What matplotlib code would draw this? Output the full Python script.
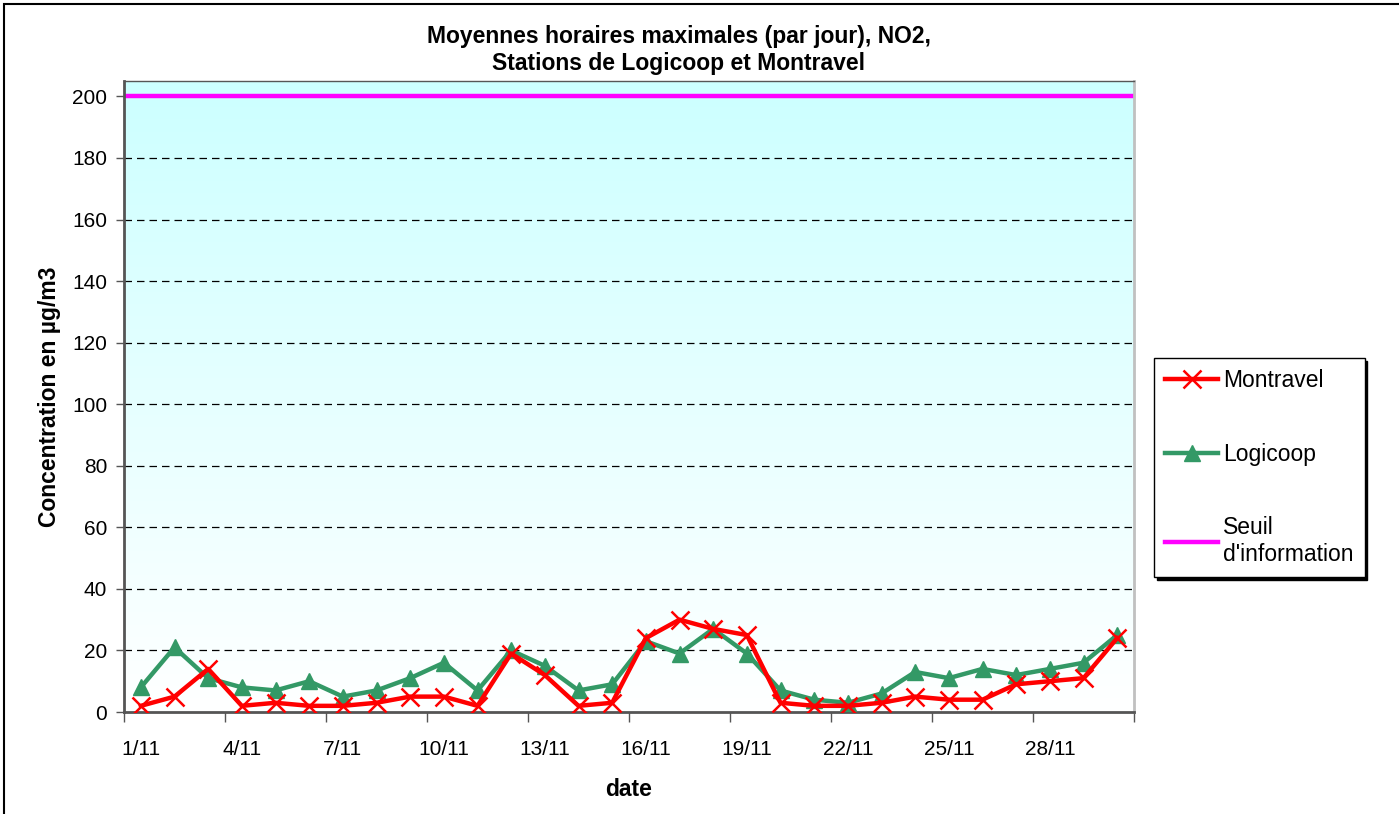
import numpy as np
import matplotlib.pyplot as plt
from matplotlib.patches import Rectangle

plt.rcParams['font.family'] = ['Liberation Sans', 'DejaVu Sans']

# Data
days = [f"{d}/11" for d in range(1, 31)]
montravel = [2, 5, 14, 2, 3, 2, 2, 3, 5, 5,
             2, 19, 12, 2, 3, 24, 30, 27, 25, 3,
             2, 2, 3, 5, 4, 4, 9, 10, 11, 24]
logicoop = [8, 21, 11, 8, 7, 10, 5, 7, 11, 16,
            7, 20, 15, 7, 9, 23, 19, 27, 19, 7,
            4, 3, 6, 13, 11, 14, 12, 14, 16, 25]
seuil = 200

x = np.arange(len(days))

fig = plt.figure(figsize=(13.99, 8.14), dpi=100)
ax = fig.add_axes([124/1399, 1 - 712/814, 1010/1399, 631/814])

# outer chart border
fig.patches.append(Rectangle((4/1399, -0.01), 1.02, 1 - 4/814 + 0.01,
                             transform=fig.transFigure, fill=False,
                             edgecolor='black', linewidth=1.5))

# gradient background
grad = np.linspace(0, 1, 256).reshape(-1, 1)
top = np.array([0.8, 1.0, 1.0])
bot = np.array([1.0, 1.0, 1.0])
img = bot + (top - bot) * grad[:, :, None] * np.ones((1, 1, 3))
ax.imshow(img, origin='lower', aspect='auto', extent=(-0.5, 29.5, 0, 205), zorder=0)

for yv in range(20, 200, 20):
    ax.axhline(yv, color='black', linestyle=(0, (6, 4)), linewidth=0.9, zorder=1)

ax.axhline(seuil, color='#FF00FF', linewidth=3.2, label="Seuil\nd'information", zorder=2)
ax.plot(x, logicoop, color='#339966', linewidth=3.2, marker='^', markersize=11,
        label='Logicoop', zorder=3)
ax.plot(x, montravel, color='#FF0000', linewidth=3.2, marker='x', markersize=13,
        markeredgewidth=1.8, label='Montravel', zorder=4)

ax.set_xlim(-0.5, 29.5)
ax.set_ylim(0, 205)
ax.set_yticks(range(0, 201, 20))
ax.tick_params(axis='y', labelsize=15, length=6, width=1, color='#555555', pad=6)

ax.set_xticks(np.arange(-0.5, 30, 3))
ax.set_xticklabels([])
ax.tick_params(axis='x', which='major', length=7, width=1, color='#555555')
ax.set_xticks(x[::3], minor=True)
ax.set_xticklabels(days[::3], minor=True)
ax.tick_params(axis='x', which='minor', length=0, labelsize=15, pad=20)

for side in ['left', 'bottom']:
    ax.spines[side].set_color('#555555')
    ax.spines[side].set_linewidth(2)
ax.spines['top'].set_color('#555555')
ax.spines['top'].set_linewidth(1)
ax.spines['right'].set_color('#C0C0C0')
ax.spines['right'].set_linewidth(2)

ax.set_ylabel('Concentration en µg/m3', fontsize=16.5, fontweight='bold', labelpad=8)
ax.set_xlabel('date', fontsize=16.5, fontweight='bold', labelpad=14)
fig.text(0.485, 1 - 50/814, 'Moyennes horaires maximales (par jour), NO2,\nStations de Logicoop et Montravel',
         ha='center', va='center', fontsize=16.5, fontweight='bold', linespacing=1.25)

handles, labels = ax.get_legend_handles_labels()
order = [2, 1, 0]
leg = fig.legend([handles[i] for i in order], [labels[i] for i in order],
                 loc='upper left', bbox_to_anchor=(1154/1399, 1 - 358/814),
                 borderaxespad=0, fontsize=16.5, frameon=True, fancybox=False,
                 shadow={'color': 'black', 'alpha': 1}, labelspacing=2.2,
                 handlelength=2.3, borderpad=0.5, handletextpad=0.2)
leg.get_frame().set_edgecolor('black')
leg.get_frame().set_linewidth(1)

fig.savefig('out.png', dpi=100)
